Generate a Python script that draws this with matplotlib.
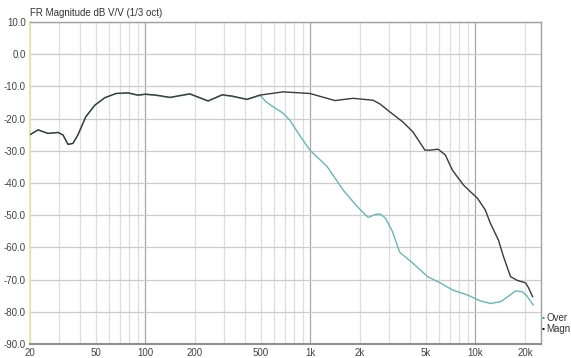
import matplotlib.pyplot as plt
import numpy as np
from matplotlib.ticker import FixedLocator, NullFormatter

plt.rcParams['font.family'] = ['Liberation Sans', 'DejaVu Sans']

# 1/3 octave smoothed magnitude response, dB V/V
magn_freq = [20, 22.4, 25.7, 29.6, 31.7, 34.0, 36.4, 39.0, 43.6, 49.5, 56.9, 66.5, 78.7,
             90.2, 100, 116, 141, 186, 240, 292, 335, 413, 495, 683, 995, 1410, 1814,
             2400, 2650, 3030, 3630, 4180, 4950, 5320, 5950, 6580, 7260, 7890, 8470,
             9330, 10290, 11500, 12330, 13800, 14820, 16350, 18050, 20160, 21030, 22240]
magn_db = [-25.0, -23.5, -24.6, -24.3, -25.1, -28.0, -27.7, -25.1, -19.4, -15.8, -13.5,
           -12.2, -12.0, -12.7, -12.4, -12.7, -13.4, -12.3, -14.5, -12.6, -13.0, -14.0,
           -12.7, -11.7, -12.2, -14.4, -13.7, -14.3, -15.5, -17.9, -21.0, -24.1, -29.8,
           -29.8, -29.5, -31.3, -36.0, -38.5, -40.6, -42.7, -44.7, -48.4, -52.5, -57.7,
           -62.9, -69.1, -70.3, -71.0, -72.6, -75.3]

over_freq = [20, 22.4, 25.7, 29.6, 31.7, 34.0, 36.4, 39.0, 43.6, 49.5, 56.9, 66.5, 78.7,
             90.2, 100, 116, 141, 186, 240, 292, 335, 413, 495, 540, 593, 683, 752, 869,
             995, 1264, 1581, 1930, 2240, 2470, 2650, 2850, 3140, 3480, 4180, 5140, 6110,
             7260, 8980, 10700, 12330, 14200, 15920, 17540, 19300, 20560, 22400]
over_db = [-25.0, -23.5, -24.6, -24.3, -25.1, -28.0, -27.7, -25.1, -19.4, -15.8, -13.5,
           -12.2, -12.1, -12.8, -12.5, -12.8, -13.5, -12.4, -14.6, -12.7, -13.1, -14.1,
           -12.8, -14.8, -16.3, -18.3, -20.5, -25.5, -29.8, -34.9, -42.2, -47.4, -50.7,
           -49.8, -49.6, -50.9, -55.0, -61.5, -64.9, -69.1, -71.0, -73.2, -74.8, -76.6,
           -77.4, -76.9, -75.1, -73.5, -73.8, -75.1, -77.9]

tick_freqs = [20, 50, 100, 200, 500, 1000, 2000, 5000, 10000, 20000]
tick_labels = ['20', '50', '100', '200', '500', '1k', '2k', '5k', '10k', '20k']
db_ticks = list(range(-90, 11, 10))

W, H = 571, 358
fig = plt.figure(figsize=(W / 100, H / 100), dpi=100)
ax = fig.add_axes([30 / W, 14 / H, 511 / W, 322 / H])

ax.set_xscale('log')
ax.set_xlim(20, 25000)
ax.set_ylim(-90, 10)

# grid: every 1..9 multiple, decades a bit darker
grid_f = [m * 10 ** d for d in range(1, 5) for m in range(1, 10) if 20 <= m * 10 ** d <= 25000]
for f in grid_f:
    decade = f in (100, 1000, 10000)
    ax.axvline(f, color='#a8a8a8' if decade else '#dedede', lw=0.9, zorder=0)
for v in db_ticks:
    ax.axhline(v, color='#cccccc', lw=0.9, zorder=0)

ax.plot(magn_freq, magn_db, color='#3a3a3a', lw=1.0, zorder=3)
ax.plot(over_freq, over_db, color='#6cb4b4', lw=1.0, zorder=2)

ax.xaxis.set_major_locator(FixedLocator(tick_freqs))
ax.set_xticklabels(tick_labels)
ax.xaxis.set_minor_formatter(NullFormatter())
ax.set_yticks(db_ticks)
ax.set_yticklabels([f'{v:.1f}' for v in db_ticks])
ax.tick_params(axis='both', which='both', length=0, labelsize=7, colors='#444444')
ax.tick_params(axis='x', pad=3)
ax.tick_params(axis='y', pad=3)

for side in ('top', 'right'):
    ax.spines[side].set_color('#a0a0a0')
    ax.spines[side].set_linewidth(1.0)
ax.spines['bottom'].set_color('#909090')
ax.spines['bottom'].set_linewidth(1.5)
ax.spines['left'].set_color('#e8e4a0')
ax.spines['left'].set_linewidth(1.2)

fig.text(30 / W, 1 - 13 / H, 'FR Magnitude dB V/V (1/3 oct)', fontsize=7,
         color='#333333', va='center', ha='left')

# legend entries to the right of the plot
for i, (name, col) in enumerate([('Over', '#3aa0a0'), ('Magn', '#111111')]):
    y = 1 - (318 + i * 11) / H
    fig.text(542 / W, y, '\u25aa', fontsize=6, color=col, va='center', ha='left')
    fig.text(546.5 / W, y, name, fontsize=7, color='#333333', va='center', ha='left')

fig.savefig('out.png', dpi=100)
